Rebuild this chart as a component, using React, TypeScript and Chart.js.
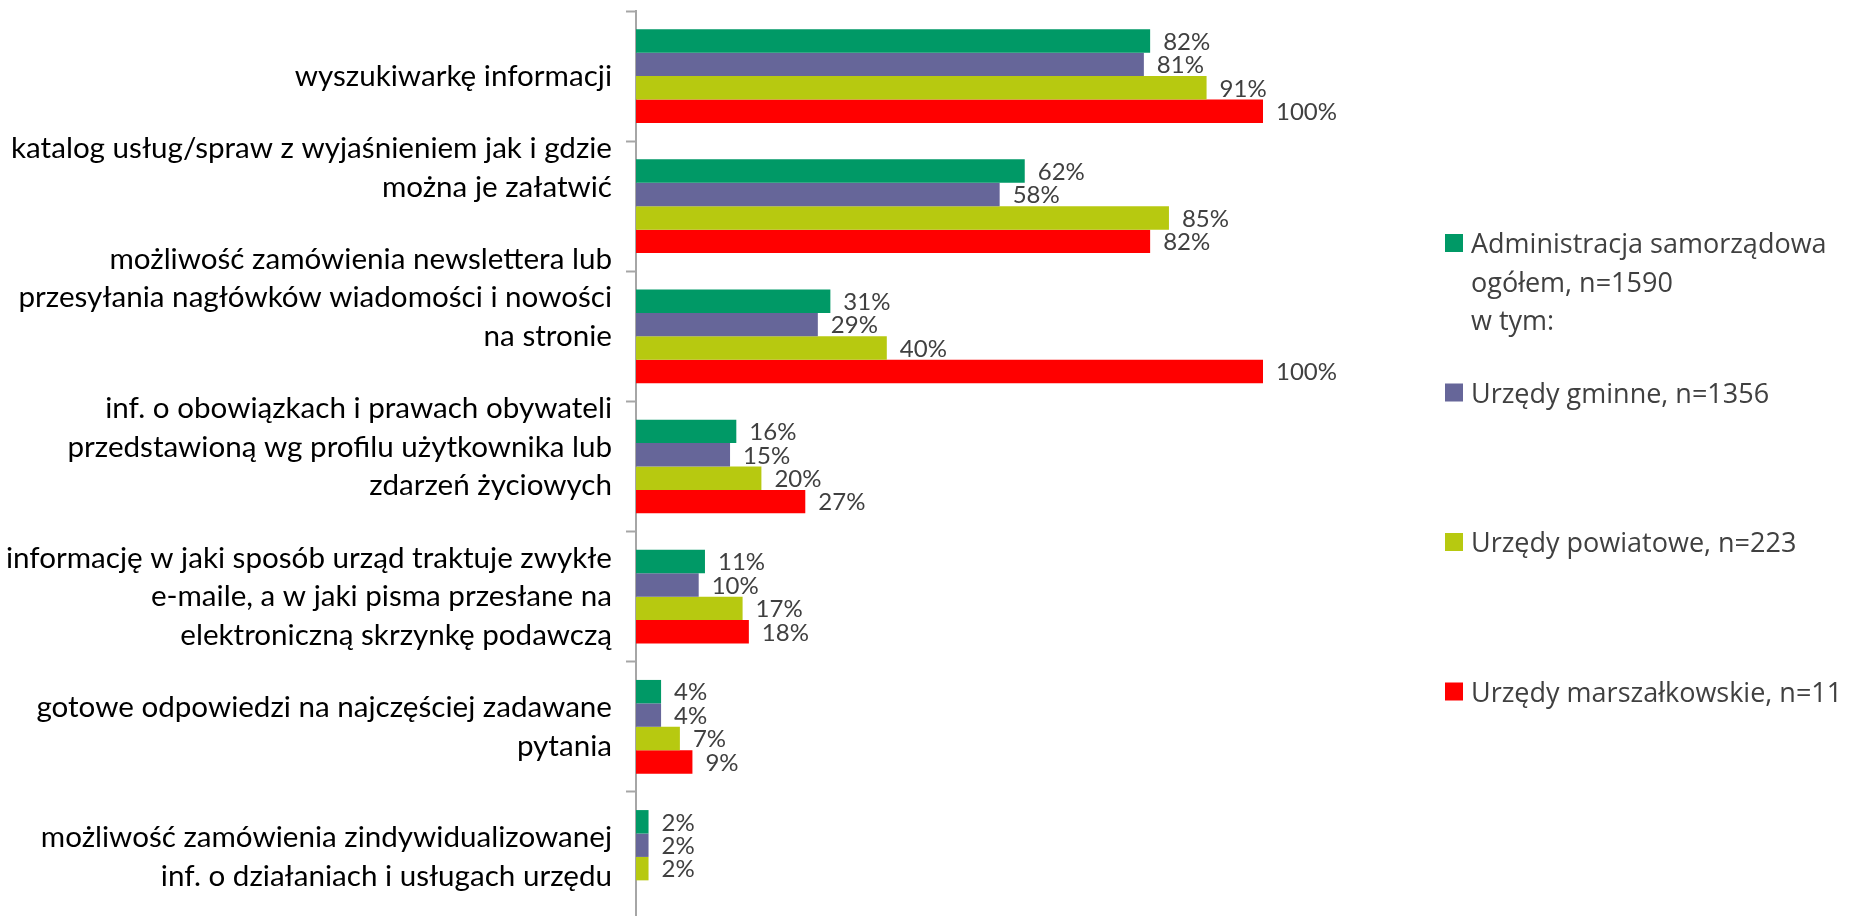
import React, { useEffect, useRef } from "react";
import { Chart, registerables } from "chart.js";

Chart.register(...registerables);

const categories: string[][] = [
  ["wyszukiwarkę informacji"],
  ["katalog usług/spraw z wyjaśnieniem jak i gdzie", "można je załatwić", "", ""],
  ["możliwość zamówienia newslettera lub", "przesyłania nagłówków wiadomości i nowości", "na stronie", "", ""],
  ["inf. o obowiązkach i prawach obywateli", "przedstawioną wg profilu użytkownika lub", "zdarzeń życiowych", ""],
  ["informację w jaki sposób urząd traktuje zwykłe", "e-maile, a w jaki pisma przesłane na", "elektroniczną skrzynkę podawczą"],
  ["gotowe odpowiedzi na najczęściej zadawane", "pytania"],
  ["możliwość zamówienia zindywidualizowanej", "inf. o działaniach i usługach urzędu"],
];

const seriesNames: string[] = [
  "Administracja samorządowa\nogółem, n=1590\nw tym:",
  "Urzędy gminne, n=1356",
  "Urzędy powiatowe, n=223",
  "Urzędy marszałkowskie, n=11",
];

const adminTotal: (number | null)[] = [82, 62, 31, 16, 11, 4, 2];
const gminne: (number | null)[] = [81, 58, 29, 15, 10, 4, 2];
const powiatowe: (number | null)[] = [91, 85, 40, 20, 17, 7, 2];
const marszalkowskie: (number | null)[] = [100, 82, 100, 27, 18, 9, null];

const seriesColors: string[] = ["#009966", "#666699", "#B7C910", "#FF0000"];

const xMin = 0;
const xMax = 100;

const dataLabelsPlugin = {
  id: "dataLabels",
  afterDatasetsDraw(chart: any) {
    const ctx = chart.ctx;
    ctx.save();
    ctx.font = "24px Lato";
    ctx.fillStyle = "#404040";
    ctx.textAlign = "left";
    ctx.textBaseline = "middle";
    chart.data.datasets.forEach((ds: any, di: number) => {
      const meta = chart.getDatasetMeta(di);
      meta.data.forEach((el: any, i: number) => {
        const v = ds.data[i];
        if (v === null || v === undefined) return;
        ctx.fillText(`${v}%`, el.x + 13, el.y + 1);
      });
    });
    ctx.restore();
  },
};

const legendPlugin = {
  id: "customLegend",
  afterDraw(chart: any) {
    const ctx = chart.ctx;
    const left = chart.chartArea.right + 182;
    const top = 234;
    const slot = 149.5;
    const box = 18;
    const lineH = 38.5;
    ctx.save();
    ctx.font = "27px 'Open Sans'";
    ctx.textAlign = "left";
    ctx.textBaseline = "alphabetic";
    chart.data.datasets.forEach((ds: any, i: number) => {
      const y = top + i * slot;
      ctx.fillStyle = ds.backgroundColor;
      ctx.fillRect(left, y, box, box);
      ctx.fillStyle = "#404040";
      String(ds.label)
        .split("\n")
        .forEach((line: string, li: number) => {
          ctx.fillText(line, left + box + 8, y + box + 1 + li * lineH);
        });
    });
    ctx.restore();
  },
};

export default function App() {
  const canvasRef = useRef<HTMLCanvasElement | null>(null);

  useEffect(() => {
    if (!canvasRef.current) return;
    const seriesData = [adminTotal, gminne, powiatowe, marszalkowskie];
    const chart = new Chart(canvasRef.current, {
      type: "bar",
      data: {
        labels: categories,
        datasets: seriesNames.map((name, i) => ({
          label: name,
          data: seriesData[i],
          backgroundColor: seriesColors[i],
          borderWidth: 0,
          categoryPercentage: 0.72,
          barPercentage: 1.0,
        })),
      },
      options: {
        indexAxis: "y",
        responsive: false,
        animation: false,
        layout: { padding: { top: 11, right: 593, bottom: 0, left: 0 } },
        plugins: {
          legend: { display: false },
          tooltip: { enabled: false },
          title: { display: false },
        },
        scales: {
          x: {
            display: false,
            min: xMin,
            max: xMax,
          },
          y: {
            type: "category",
            offset: true,
            afterFit: (scale: any) => {
              scale.width = 636;
              scale.paddingTop = 0;
              scale.paddingBottom = 0;
            },
            border: { display: true, color: "#A6A6A6", width: 2 },
            grid: {
              display: true,
              offset: true,
              drawOnChartArea: false,
              drawTicks: true,
              tickLength: 10,
              tickWidth: 2,
              color: "#A6A6A6",
            },
            ticks: {
              autoSkip: false,
              padding: 14,
              color: "#000000",
              font: { family: "Lato", size: 29.6, lineHeight: 1.3 },
            },
          },
        },
      },
      plugins: [dataLabelsPlugin, legendPlugin],
    });
    return () => chart.destroy();
  }, []);

  return (
    <div
      style={{
        position: "fixed",
        top: 0,
        left: 0,
        width: 1856,
        height: 916,
        overflow: "hidden",
        background: "#ffffff",
      }}
    >
      <canvas ref={canvasRef} width={1856} height={922} style={{ display: "block" }} />
    </div>
  );
}
